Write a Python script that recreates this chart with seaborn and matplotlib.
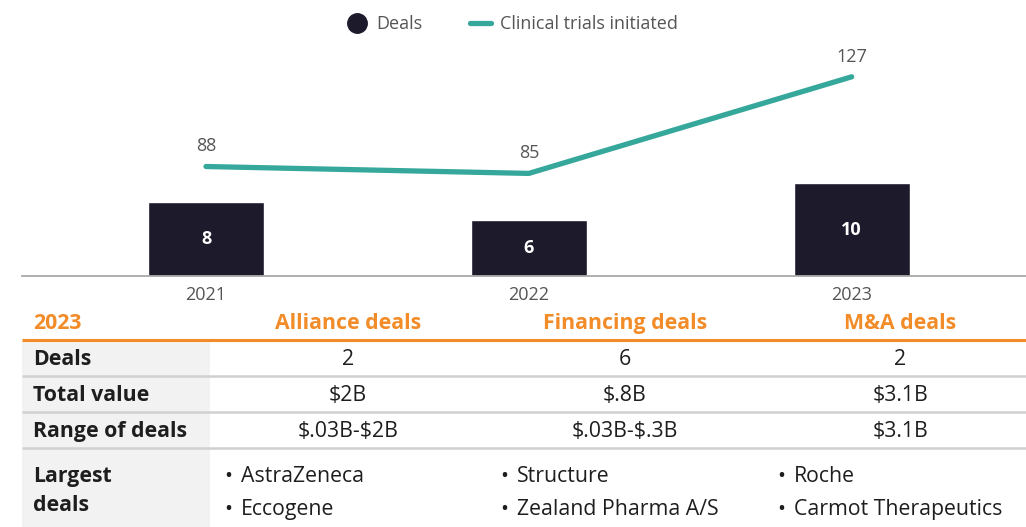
import numpy as np
import pandas as pd
import matplotlib.pyplot as plt
import seaborn as sns
from matplotlib.lines import Line2D

# ── data ──────────────────────────────────────
years = ["2021", "2022", "2023"]
deals = [8, 6, 10]
trials = [88, 85, 127]

table_header = ["2023", "Alliance deals", "Financing deals", "M&A deals"]
row_labels = ["Deals", "Total value", "Range of deals"]
alliance_vals = ["2", "$2B", "$.03B-$2B"]
financing_vals = ["6", "$.8B", "$.03B-$.3B"]
ma_vals = ["2", "$3.1B", "$3.1B"]
largest_label = ["Largest", "deals"]
alliance_largest = ["AstraZeneca", "Eccogene"]
financing_largest = ["Structure", "Zealand Pharma A/S"]
ma_largest = ["Roche", "Carmot Therapeutics"]

BAR = "#1c1a2b"
TEAL = "#35a89b"
ORANGE = "#f28c28"
GRAY = "#555555"
DARK = "#1e1e1e"

sns.set_theme(style="white")
plt.rcParams["font.family"] = ["Open Sans", "DejaVu Sans"]
plt.rcParams["text.parse_math"] = False

W, H = 1026, 527
fig = plt.figure(figsize=(W / 100, H / 100), dpi=100)

# ── chart ─────────────────────────────────────
ax = fig.add_axes([22 / W, 1 - 276 / H, 1 - 22 / W, 236 / H])
df = pd.DataFrame({"year": years, "deals": deals, "trials": trials})
sns.barplot(data=df, x="year", y="deals", color=BAR, width=0.36,
            saturation=1, ax=ax)
ax.set_ylim(0, 25.5)
ax.set_xlim(-0.57, 2.54)
for i, v in enumerate(deals):
    ax.text(i, v / 2, str(v), ha="center", va="center", color="white",
            fontsize=13, fontweight="bold")

ax2 = ax.twinx()
sns.lineplot(x=np.arange(len(years)), y=trials, color=TEAL, lw=3.8,
             ax=ax2, solid_capstyle="round")
ax2.set_ylim(40.4, 143)
for i, v in enumerate(trials):
    ax2.annotate(str(v), (i, v), xytext=(0, 8), textcoords="offset points",
                 ha="center", va="bottom", color=GRAY, fontsize=13)

for a in (ax, ax2):
    a.set_yticks([])
    a.set_ylabel("")
    for s in ["top", "left", "right", "bottom"]:
        a.spines[s].set_visible(False)
ax.spines["bottom"].set_visible(True)
ax.spines["bottom"].set_color("#a8a8a8")
ax.spines["bottom"].set_linewidth(1.3)
ax.set_xlabel("")
ax.tick_params(axis="x", length=0, pad=7, labelsize=13, labelcolor=GRAY)

handles = [
    Line2D([], [], marker="o", color="none", markerfacecolor=BAR,
           markeredgecolor=BAR, markersize=14, label="Deals"),
    Line2D([], [], color=TEAL, lw=3.8, label="Clinical trials initiated",
           solid_capstyle="round"),
]
fig.legend(handles=handles, loc="center", bbox_to_anchor=(512 / W, 1 - 24 / H),
           ncol=2, frameon=False, fontsize=13, labelcolor=GRAY,
           handlelength=1.2, columnspacing=2.6, handletextpad=0.5)

# ── table ─────────────────────────────────────
tx = fig.add_axes([0, 0, 1, (H - 300) / H])
tx.set_xlim(0, W)
tx.set_ylim(H, 300)
tx.axis("off")

col_x = [33, 348, 625, 900]
bullet_x = [224, 500, 777]
row_y = [358, 394, 430]
sep_y = [376, 412, 448]
base = 7  # centre -> baseline offset in px

tx.add_patch(plt.Rectangle((22, 341), 188, H - 341, color="#f2f2f2", lw=0))
tx.plot([22, W], [340, 340], color=ORANGE, lw=2.2, solid_capstyle="butt")
for y in sep_y:
    tx.plot([22, W], [y, y], color="#d0d0d0", lw=1.8, solid_capstyle="butt")

tsize = 15.3
for i, h in enumerate(table_header):
    tx.text(col_x[i], 322 + base, h, ha="left" if i == 0 else "center",
            va="baseline", color=ORANGE, fontsize=tsize, fontweight="bold")

cols = [alliance_vals, financing_vals, ma_vals]
for r, (lab, y) in enumerate(zip(row_labels, row_y)):
    tx.text(col_x[0], y + base, lab, ha="left", va="baseline", color=DARK,
            fontsize=tsize, fontweight="bold")
    for c, vals in enumerate(cols):
        tx.text(col_x[c + 1], y + base, vals[r], ha="center", va="baseline",
                color=DARK, fontsize=tsize)

for k, lab in enumerate(largest_label):
    tx.text(col_x[0], 475 + k * 29 + base, lab, ha="left", va="baseline",
            color=DARK, fontsize=tsize, fontweight="bold")
for c, names in enumerate([alliance_largest, financing_largest, ma_largest]):
    for k, name in enumerate(names):
        y = 475 + k * 33 + base
        tx.text(bullet_x[c], y, "•", ha="left", va="baseline", color=DARK,
                fontsize=tsize)
        tx.text(bullet_x[c] + 17, y, name, ha="left", va="baseline",
                color=DARK, fontsize=tsize)

fig.savefig("out.png", dpi=100)
